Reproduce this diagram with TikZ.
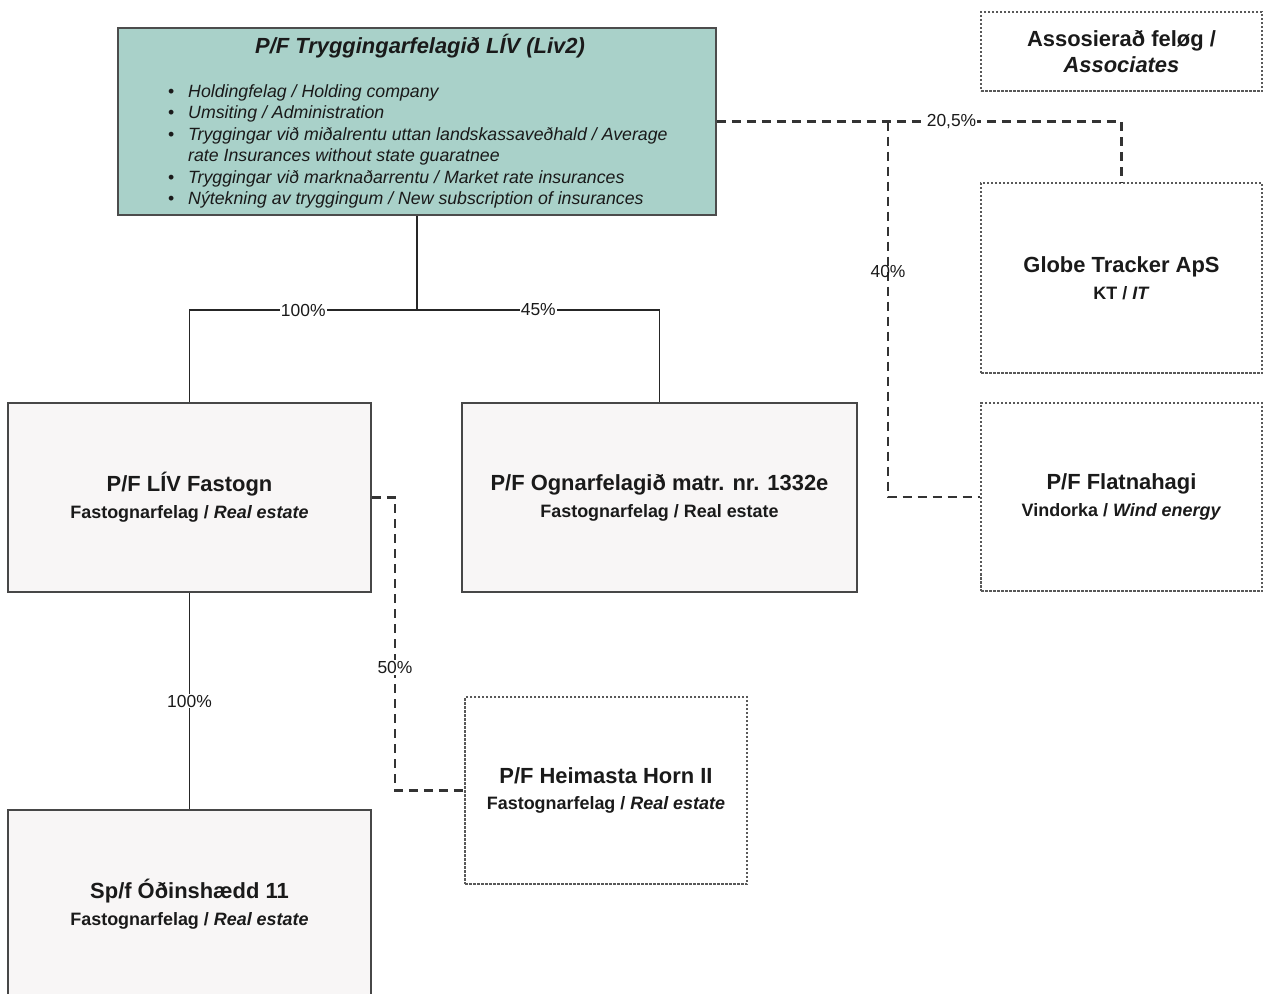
\documentclass[tikz,border=0pt]{standalone}
\usepackage{fontspec}
\setmainfont{Liberation Sans}
\definecolor{topfill}{HTML}{A9D1C9}
\definecolor{boxfill}{HTML}{F8F6F6}
\definecolor{ink}{HTML}{1A1A1A}
\newcommand\bul{\makebox[20bp][l]{\upshape\textbullet}}
\begin{document}
\begin{tikzpicture}[x=1bp,y=-1bp,
  solidbox/.style={draw=black!72, line width=1.6bp, fill=boxfill, inner sep=0, text=ink, align=center,
    font=\bfseries\fontsize{18}{27}\selectfont},
  assocbox/.style={draw=black!65, line width=1.1bp, dash pattern=on 2.5bp off 1.5bp, fill=white, inner sep=0, text=ink,
    align=center, font=\bfseries\fontsize{18}{27}\selectfont},
  own/.style={draw=black!85, line width=1.5bp},
  share/.style={draw=black!80, line width=2.1bp, dash pattern=on 9bp off 6bp},
  pct/.style={fill=white, inner sep=1bp, text=ink, font=\fontsize{17.5}{19}\selectfont},
  pctclear/.style={inner sep=1bp, text=ink, font=\fontsize{17.5}{19}\selectfont}]
\useasboundingbox (0,0) rectangle (1265,994);
\clip (0,0) rectangle (1265,994);

% top holding box
\node[draw=black!70, line width=1.6bp, fill=topfill, inner sep=0, minimum width=598bp, minimum height=187bp] (top) at (417,121.5) {};
\node[text=ink, font=\bfseries\itshape\fontsize{22}{26}\selectfont] (toptitle) at (420,46) {P/F Tryggingarfelagið LÍV (Liv2)};
\node[anchor=north west, align=left, inner sep=0, text=ink, font=\itshape\fontsize{17.8}{21.6}\selectfont] (toplist) at (168,84)
  {\bul Holdingfelag / Holding company\\
   \bul Umsiting / Administration\\
   \bul Tryggingar við miðalrentu uttan landskassaveðhald / Average\\
   \hspace*{20bp}rate Insurances without state guaratnee\\
   \bul Tryggingar við marknaðarrentu / Market rate insurances\\
   \bul Nýtekning av tryggingum / New subscription of insurances};

% associates
\node[assocbox, minimum width=281bp, minimum height=79bp, font=\bfseries\fontsize{22}{26}\selectfont] (assoc) at (1121.5,51.5)
  {Assosierað feløg /\\ \textit{Associates}};
\node[assocbox, minimum width=281bp, minimum height=190bp] (globe) at (1121.5,278)
  {{\fontsize{22}{24}\selectfont Globe Tracker ApS}\\ KT / \textit{IT}};
\node[assocbox, minimum width=281bp, minimum height=188bp] (flat) at (1121.5,497)
  {{\fontsize{22}{24}\selectfont P/F Flatnahagi}\\ Vindorka / \textit{Wind energy}};
\node[assocbox, minimum width=282bp, minimum height=187bp] (heim) at (606,790.5)
  {{\fontsize{22}{24}\selectfont P/F Heimasta Horn II}\\ Fastognarfelag / \textit{Real estate}};

% subsidiaries
\node[solidbox, minimum width=363bp, minimum height=189bp] (fast) at (189.5,497.5)
  {{\fontsize{22}{24}\selectfont P/F LÍV Fastogn}\\ Fastognarfelag / \textit{Real estate}};
\node[solidbox, minimum width=395bp, minimum height=189bp] (ognar) at (659.5,497.5)
  {{\fontsize{22}{24}\selectfont P/F Ognarfelagið matr. nr. 1332e}\\ Fastognarfelag / Real estate};
\node[solidbox, minimum width=363bp, minimum height=188bp] (odin) at (189.5,904)
  {{\fontsize{22}{24}\selectfont Sp/f Óðinshædd 11}\\ Fastognarfelag / \textit{Real estate}};

% ownership lines
\coordinate (j1) at (417,310);
\draw[own] (top.south) -- (j1);
\draw[own] (j1) -| node[pct, pos=0.25] (p100a) {100\%} (fast.north);
\draw[own] (j1) -| node[pct, pos=0.25] (p45) {45\%} (ognar.north);
\draw[own] (fast.south) -- node[pct, pos=0.5] (p100b) {100\%} (odin.north);

% associate lines
\coordinate (d1) at (395,497.5);
\draw[share] (fast.east) -- (d1) |- node[pct, pos=0.29] (p50) {50\%} (heim.west);
\draw[share] (top.east) -| node[pct, pos=0.29] (p205) {20,5\%} (globe.north);
\coordinate (d2) at (888,121.5);
\draw[share] (d2) |- node[pctclear, pos=0.2] (p40) {40\%} (flat.west);
\end{tikzpicture}
\end{document}
